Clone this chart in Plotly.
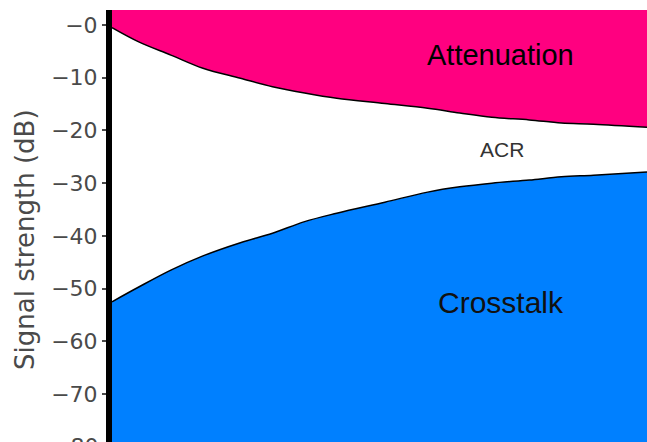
import plotly.graph_objects as go

# Frequency (MHz) sample points
freq = [0, 5, 11, 17, 24, 30, 36, 42, 51, 59, 65, 71, 78, 84, 90, 100]
# Attenuation curve (dB)
attenuation = [-0.5, -3.2, -5.7, -8.2, -10.1, -11.7, -12.9, -13.9, -14.9,
               -15.8, -16.7, -17.5, -18.0, -18.6, -18.8, -19.4]
# Crosstalk curve (dB)
crosstalk = [-52.5, -49.7, -46.5, -43.8, -41.3, -39.5, -37.3, -35.7, -33.6,
             -31.7, -30.7, -30.0, -29.4, -28.8, -28.5, -27.9]

tick_values = [0, -10, -20, -30, -40, -50, -60, -70]
tick_labels = ["\u22120", "\u221210", "\u221220", "\u221230",
               "\u221240", "\u221250", "\u221260", "\u221270"]
hidden_tick_value = -80
hidden_tick_label = "\u221280"

y_range = [-79.1, 2.85]
x_range = [0, 100]

PINK = "rgb(255,0,128)"
BLUE = "rgb(0,128,255)"
GRAY = "#4a4a4a"

fig = go.Figure()
# top boundary (range top) so attenuation fill reaches the top of the plot
fig.add_trace(go.Scatter(x=freq, y=[y_range[1]] * len(freq), mode="lines",
                         line=dict(width=0), hoverinfo="skip", showlegend=False))
fig.add_trace(go.Scatter(x=freq, y=attenuation, mode="lines", fill="tonexty",
                         fillcolor=PINK, line=dict(color="black", width=1.5, shape="spline"),
                         hoverinfo="skip", showlegend=False))
fig.add_trace(go.Scatter(x=freq, y=crosstalk, mode="lines", fill="tonexty",
                         fillcolor="white", line=dict(color="black", width=1.5, shape="spline"),
                         hoverinfo="skip", showlegend=False))

fig.update_layout(
    width=647, height=442,
    margin=dict(l=112, r=0, t=10, b=0),
    paper_bgcolor="white",
    plot_bgcolor=BLUE,
    showlegend=False,
    xaxis=dict(range=x_range, showgrid=False, zeroline=False, showticklabels=False,
               ticks="", showline=False, fixedrange=True),
    yaxis=dict(range=y_range, showgrid=False, zeroline=False,
               tickvals=tick_values, ticktext=tick_labels,
               ticks="outside", ticklen=4, tickwidth=1.5, tickcolor=GRAY,
               tickfont=dict(family="DejaVu Sans", size=22, color=GRAY),
               showline=True, linecolor="black", linewidth=6, fixedrange=True),
    annotations=[
        dict(text="Attenuation", x=72.7, y=-5.7, xref="x", yref="y", showarrow=False,
             font=dict(family="Liberation Sans, Arial", size=29, color="black")),
        dict(text="ACR", x=72.9, y=-23.7, xref="x", yref="y", showarrow=False,
             font=dict(family="Liberation Sans, Arial", size=21, color="#333333")),
        dict(text="Crosstalk", x=72.7, y=-52.6, xref="x", yref="y", showarrow=False,
             font=dict(family="Liberation Sans, Arial", size=30, color="#111111")),
        dict(text="Signal strength (dB)", textangle=-90, xref="paper", yref="paper",
             x=(25 - 112) / 535, y=(442 - 240) / 432, xanchor="center", yanchor="middle",
             showarrow=False, font=dict(family="DejaVu Sans", size=26, color=GRAY)),
        dict(text=hidden_tick_label, xref="paper", yref="y domain",
             x=-(12 / 535), y=(hidden_tick_value - y_range[0]) / (y_range[1] - y_range[0]),
             xanchor="right", yanchor="middle", showarrow=False,
             font=dict(family="DejaVu Sans", size=22, color=GRAY)),
    ],
)

fig.write_html("out.html", config={"displayModeBar": False},
               post_script="document.body.style.margin='0';document.body.style.overflow='hidden';")
